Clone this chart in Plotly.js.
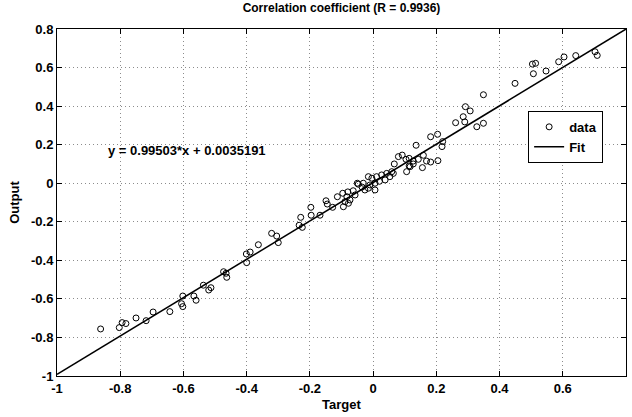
<!DOCTYPE html>
<html><head><meta charset="utf-8">
<script src="https://cdn.plot.ly/plotly-3.0.1.min.js"></script>
<style>html,body{margin:0;padding:0;background:#fff}#chart{width:632px;height:417px}</style>
</head><body><div id="chart"></div>
<script>
const targetVals = [-0.862,-0.803,-0.794,-0.782,-0.750,-0.718,-0.696,-0.643,-0.602,-0.606,-0.602,-0.567,-0.560,-0.537,-0.520,-0.513,-0.473,-0.465,-0.463,-0.401,-0.400,
 -0.389,-0.363,-0.321,-0.305,-0.300,-0.229,-0.234,-0.224,-0.197,-0.196,-0.168,
 -0.149,-0.145,-0.128,-0.113,-0.096,-0.094,-0.089,-0.080,-0.083,-0.073,-0.078,-0.063,-0.057,-0.050,
 -0.047,-0.031,-0.035,-0.026,-0.015,-0.010,-0.015,-0.004,0.006,0.006,0.011,0.020,0.027,0.038,0.043,0.053,0.059,0.064,0.067,
 0.080,0.092,0.104,0.106,0.114,0.114,0.117,0.127,0.127,0.136,0.143,0.156,0.159,0.169,0.182,0.182,0.204,0.205,0.218,0.220,
 0.261,0.285,0.290,0.292,0.307,0.328,0.349,0.349,0.449,0.504,0.514,0.507,0.547,0.587,0.604,0.641,0.702,0.709];
const outputVals = [-0.756,-0.749,-0.723,-0.728,-0.699,-0.713,-0.668,-0.666,-0.585,-0.625,-0.640,-0.585,-0.607,-0.529,-0.554,-0.542,-0.459,-0.467,-0.488,-0.367,-0.412,
 -0.357,-0.319,-0.260,-0.274,-0.308,-0.177,-0.218,-0.229,-0.125,-0.166,-0.166,
 -0.091,-0.108,-0.125,-0.070,-0.052,-0.122,-0.096,-0.045,-0.070,-0.087,-0.104,-0.039,-0.061,0.000,
 -0.005,0.000,-0.020,-0.035,-0.026,-0.009,0.034,0.026,0.000,-0.035,0.034,0.010,0.043,0.017,0.051,0.034,0.060,0.051,0.100,
 0.138,0.146,0.124,0.060,0.129,0.090,0.086,0.115,0.100,0.197,0.124,0.081,0.145,0.115,0.110,0.241,0.254,0.117,0.190,0.216,
 0.314,0.345,0.318,0.397,0.375,0.293,0.311,0.459,0.518,0.618,0.622,0.568,0.582,0.630,0.655,0.662,0.682,0.663];
const fitX = [-1, 0.8];
const fitY = [-0.9915, 0.7996];
const xTicks = [-1,-0.8,-0.6,-0.4,-0.2,0,0.2,0.4,0.6,0.8];
const xTickText = ["-1","-0.8","-0.6","-0.4","-0.2","0","0.2","0.4","0.6","0.8"];
const yTicks = [-1,-0.8,-0.6,-0.4,-0.2,0,0.2,0.4,0.6,0.8];
const yTickText = ["-1","-0.8","-0.6","-0.4","-0.2","0","0.2","0.4","0.6","0.8"];
const titleText = "Correlation coefficient (R = 0.9936)";
const eqText = "y = 0.99503*x + 0.0035191";

const fnt = {family:"Liberation Sans, Arial, sans-serif", size:13, color:"#000", weight:"bold"};
const titleFnt = {family:"Liberation Sans, Arial, sans-serif", size:12, color:"#000", weight:"bold"};
const axisCommon = {
  showline:true, linecolor:"#000", linewidth:1, mirror:"ticks",
  ticks:"inside", ticklen:5, tickcolor:"#000", tickwidth:1,
  showgrid:true, gridcolor:"#8c8c8c", griddash:"1px,3px", gridwidth:1,
  zeroline:false, tickfont:fnt, tickmode:"array"
};
const data = [
  {x:targetVals, y:outputVals, mode:"markers", type:"scatter", name:"data",
   marker:{symbol:"circle-open", size:6, color:"#000", line:{width:1, color:"#000"}}},
  {x:fitX, y:fitY, mode:"lines", type:"scatter", name:"Fit",
   line:{color:"#000", width:1.6}}
];
const layout = {
  width:632, height:417,
  margin:{l:57, r:6, t:29, b:41},
  paper_bgcolor:"#fff", plot_bgcolor:"#fff",
  title:{text:titleText, font:titleFnt, x:0.5, xref:"paper", y:1, yref:"container", yanchor:"top", pad:{t:4}},
  xaxis:Object.assign({}, axisCommon, {range:[-1,0.8], tickvals:xTicks, ticktext:xTickText,
    title:{text:"Target", font:fnt, standoff:5}}),
  yaxis:Object.assign({}, axisCommon, {range:[-1,0.8], tickvals:yTicks, ticktext:yTickText,
    title:{text:"Output", font:fnt, standoff:8}}),
  legend:{x:0.828, y:0.764, xanchor:"left", yanchor:"top", bgcolor:"#fff",
    bordercolor:"#000", borderwidth:1, font:fnt, tracegroupgap:0, itemwidth:30},
  showlegend:true,
  annotations:[{x:-0.845, y:0.172, xref:"x", yref:"y", xanchor:"left", yanchor:"middle",
    text:eqText, showarrow:false, font:fnt}]
};
Plotly.newPlot("chart", data, layout, {displayModeBar:false, staticPlot:true});
</script></body></html>
